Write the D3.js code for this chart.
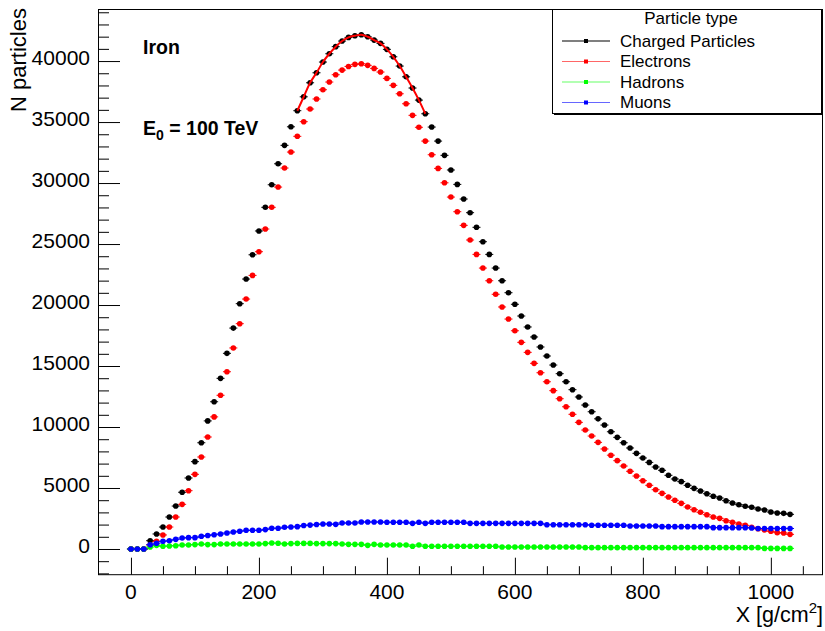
<!DOCTYPE html>
<html>
<head>
<meta charset="utf-8">
<script src="https://cdn.jsdelivr.net/npm/d3@7"></script>
<style>
  html, body { margin: 0; padding: 0; background: #fff; }
  svg { display: block; font-family: "Liberation Sans", Arial, Helvetica, sans-serif; }
</style>
</head>
<body>
<svg id="chart" width="825" height="631"></svg>
<script>
// ---------------- DATA ----------------
const depth = [0,10,20,30,40,50,60,70,80,90,
  100,110,120,130,140,150,160,170,180,190,
  200,210,220,230,240,250,260,270,280,290,
  300,310,320,330,340,350,360,370,380,390,
  400,410,420,430,440,450,460,470,480,490,
  500,510,520,530,540,550,560,570,580,590,
  600,610,620,630,640,650,660,670,680,690,
  700,710,720,730,740,750,760,770,780,790,
  800,810,820,830,840,850,860,870,880,890,
  900,910,920,930,940,950,960,970,980,990,
  1000,1010,1020,1030];

const charged = [0,0,0,680,1230,1800,2620,3520,4650,5820,
  7160,8710,10500,12070,13990,16040,18110,20110,22130,24120,
  26070,28010,29860,31580,33090,34610,35930,37070,38220,39040,
  39920,40600,41180,41640,41940,42080,42160,41990,41720,41450,
  40960,40350,39590,38710,37790,36800,35680,34590,33440,32270,
  31070,29890,28690,27570,26370,25190,24150,23030,21990,21010,
  20060,19100,18200,17380,16560,15820,15080,14370,13710,13060,
  12460,11800,11250,10670,10160,9610,9150,8710,8280,7840,
  7460,7100,6720,6450,6040,5740,5520,5220,4970,4750,
  4530,4320,4180,3960,3770,3630,3500,3420,3280,3200,
  3030,2950,2920,2840];

const electrons = [0,0,0,330,630,1150,1800,2620,3660,4780,
  6120,7540,9180,10830,12600,14530,16480,18470,20490,22430,
  24370,26230,28010,29670,31230,32540,33830,35030,36070,36890,
  37650,38280,38880,39260,39560,39730,39780,39650,39400,39100,
  38580,38010,37320,36500,35550,34570,33440,32320,31200,30020,
  28850,27650,26530,25330,24150,23030,21990,20880,19840,18850,
  17890,16940,16120,15220,14450,13710,12980,12320,11660,11040,
  10380,9750,9260,8740,8200,7690,7240,6800,6370,5980,
  5600,5220,4860,4560,4260,3990,3740,3440,3220,3010,
  2810,2620,2510,2320,2190,2050,1940,1780,1660,1560,
  1450,1340,1310,1200];

const hadrons = [0,0,0,160,300,220,250,270,330,330,
  360,410,360,360,410,410,410,410,410,410,
  410,440,490,470,410,440,460,460,460,440,
  440,440,440,410,380,380,380,300,380,330,
  330,330,330,330,220,330,220,220,220,220,
  220,220,220,220,220,220,220,220,160,160,
  160,160,160,160,160,160,160,160,160,160,
  160,110,110,110,110,110,110,110,110,110,
  110,110,110,110,110,110,110,110,110,110,
  110,110,110,110,110,110,110,110,110,50,
  50,50,50,50];

const muons = [0,0,0,350,470,630,680,790,900,930,
  930,1040,1100,1170,1230,1310,1390,1450,1530,1530,
  1530,1590,1700,1700,1780,1800,1830,1930,1960,2010,
  2050,2050,2020,2130,2130,2130,2210,2210,2210,2210,
  2190,2190,2190,2190,2100,2190,2100,2190,2190,2190,
  2190,2190,2190,2100,2100,2100,2100,2100,2100,2100,
  2100,2100,2100,2100,2100,1990,1990,1990,1990,1990,
  1990,1990,1950,1950,1950,1950,1950,1950,1890,1890,
  1890,1890,1890,1830,1830,1830,1830,1830,1830,1830,
  1830,1750,1750,1750,1750,1750,1750,1720,1680,1680,
  1680,1680,1680,1680];

// red fit curve over the shower maximum
const fitX = [260,270,280,290,300,310,320,330,340,350,360,370,380,390,400,410,420,430,440,450,460];
const fitY = [35930,37070,38220,39040,39920,40600,41180,41640,41940,42080,42160,41990,41720,41450,40960,40350,39590,38710,37790,36800,35680];

const seriesNames = ["Charged Particles", "Electrons", "Hadrons", "Muons"];
const seriesColors = ["#000000", "#ff0000", "#00ff00", "#0000ff"];
const legendLineColors = ["#000000", "#ff6666", "#66ff66", "#6666ff"];
const seriesValues = [charged, electrons, hadrons, muons];

const xTickValues = [0, 200, 400, 600, 800, 1000];
const yTickValues = [0, 5000, 10000, 15000, 20000, 25000, 30000, 35000, 40000];
const xDomain = [-51.5, 1081.5];
const yDomain = [-2108, 44268];

const legendTitle = "Particle type";
const xTitle = "X [g/cm";
const yTitle = "N particles";
const label1 = "Iron";

// ---------------- LAYOUT ----------------
const svg = d3.select("#chart");
const W = 825, H = 631;
const frame = { left: 98, right: 823, top: 9, bottom: 574.7 };

svg.append("rect").attr("x", 0).attr("y", 0).attr("width", W).attr("height", H).attr("fill", "#fff");

const x = d3.scaleLinear().domain(xDomain).range([frame.left, frame.right]);
const y = d3.scaleLinear().domain(yDomain).range([frame.bottom, frame.top]);

// X axis (ticks pointing up, inside)
const xMinor = d3.range(0, 1081, 50).filter(v => xTickValues.indexOf(v) < 0);
const xAxisMinor = d3.axisTop(x).tickValues(xMinor).tickSize(8.5).tickFormat("");
const xAxisMajor = d3.axisTop(x).tickValues(xTickValues).tickSize(17).tickFormat("");
[xAxisMinor, xAxisMajor].forEach(ax => {
  const g = svg.append("g").attr("transform", `translate(0,${frame.bottom})`).call(ax);
  g.select(".domain").remove();
  g.selectAll("line").attr("stroke", "#000").attr("stroke-width", 1);
});
svg.append("g").selectAll("text").data(xTickValues).join("text")
  .attr("x", d => x(d)).attr("y", frame.bottom + 24.5)
  .attr("text-anchor", "middle").attr("font-size", 21).attr("fill", "#000")
  .text(d => d);

// Y axis (ticks pointing right, inside)
const yMinor = d3.range(-2000, 44001, 1000).filter(v => yTickValues.indexOf(v) < 0);
const yAxisMinor = d3.axisRight(y).tickValues(yMinor).tickSize(11).tickFormat("");
const yAxisMajor = d3.axisRight(y).tickValues(yTickValues).tickSize(22).tickFormat("");
[yAxisMinor, yAxisMajor].forEach(ax => {
  const g = svg.append("g").attr("transform", `translate(${frame.left},0)`).call(ax);
  g.select(".domain").remove();
  g.selectAll("line").attr("stroke", "#000").attr("stroke-width", 1);
});
svg.append("g").selectAll("text").data(yTickValues).join("text")
  .attr("x", frame.left - 8).attr("y", d => y(d) + 4.2)
  .attr("text-anchor", "end").attr("font-size", 21).attr("fill", "#000")
  .text(d => d);

// Frame
svg.append("rect")
  .attr("x", frame.left + 0.5).attr("y", frame.top + 0.5)
  .attr("width", frame.right - frame.left - 1).attr("height", frame.bottom - frame.top - 0.5)
  .attr("fill", "none").attr("stroke", "#000").attr("stroke-width", 1);

// Axis titles
const xt = svg.append("text").attr("x", frame.right).attr("y", 621.5)
  .attr("text-anchor", "end").attr("font-size", 21.5).attr("fill", "#000");
xt.append("tspan").text(xTitle);
xt.append("tspan").attr("font-size", 15).attr("dy", -9).text("2");
xt.append("tspan").attr("dy", 9).text("]");

svg.append("text")
  .attr("transform", `translate(26,8) rotate(-90)`)
  .attr("text-anchor", "end").attr("font-size", 22).attr("fill", "#000")
  .text(yTitle);

// Series points (drawn in order so muons end up on top)
const plot = svg.append("g");
seriesValues.forEach((vals, si) => {
  const pts = depth.map((d, i) => [d, vals[i]]);
  const g = plot.append("g");
  g.selectAll("line").data(pts).join("line")
    .attr("x1", d => x(d[0]) - 4).attr("x2", d => x(d[0]) + 4)
    .attr("y1", d => y(d[1])).attr("y2", d => y(d[1]))
    .attr("stroke", seriesColors[si]).attr("stroke-width", 1);
  g.selectAll("circle").data(pts).join("circle")
    .attr("cx", d => x(d[0])).attr("cy", d => y(d[1])).attr("r", 2.8)
    .attr("fill", seriesColors[si]);
});

// Fit curve
const fitLine = d3.line().x(d => x(d[0])).y(d => y(d[1])).curve(d3.curveCatmullRom);
plot.append("path")
  .datum(fitX.map((d, i) => [d, fitY[i]]))
  .attr("d", fitLine).attr("fill", "none").attr("stroke", "#ff0000").attr("stroke-width", 2);

// Labels
svg.append("text").attr("x", 143).attr("y", 54)
  .attr("font-size", 19.5).attr("font-weight", "bold").attr("fill", "#000").text(label1);
const e0 = svg.append("text").attr("x", 143).attr("y", 135)
  .attr("font-size", 19.5).attr("font-weight", "bold").attr("fill", "#000");
e0.append("tspan").text("E");
e0.append("tspan").attr("font-size", 14).attr("dy", 5).text("0");
e0.append("tspan").attr("dy", -5).text(" = 100 TeV");

// Legend
const lg = svg.append("g");
const lgBox = { x: 552.5, y: 9.5, w: 269, h: 104 };
lg.append("rect").attr("x", lgBox.x + 1.5).attr("y", lgBox.y + 1.5)
  .attr("width", lgBox.w).attr("height", lgBox.h).attr("fill", "#000");
lg.append("rect").attr("x", lgBox.x).attr("y", lgBox.y)
  .attr("width", lgBox.w).attr("height", lgBox.h)
  .attr("fill", "#fff").attr("stroke", "#000").attr("stroke-width", 1);
lg.append("text").attr("x", 691).attr("y", 24)
  .attr("text-anchor", "middle").attr("font-size", 17).attr("fill", "#000").text(legendTitle);
const rowY = [41, 61.5, 82, 102.5];
seriesNames.forEach((name, i) => {
  lg.append("line").attr("x1", 562).attr("x2", 610).attr("y1", rowY[i]).attr("y2", rowY[i])
    .attr("stroke", legendLineColors[i]).attr("stroke-width", 1.2);
  lg.append("rect").attr("x", 584).attr("y", rowY[i] - 2).attr("width", 4).attr("height", 4)
    .attr("fill", seriesColors[i]);
  lg.append("text").attr("x", 620).attr("y", rowY[i] + 5.5)
    .attr("font-size", 17).attr("fill", "#000").text(name);
});
</script>
</body>
</html>
